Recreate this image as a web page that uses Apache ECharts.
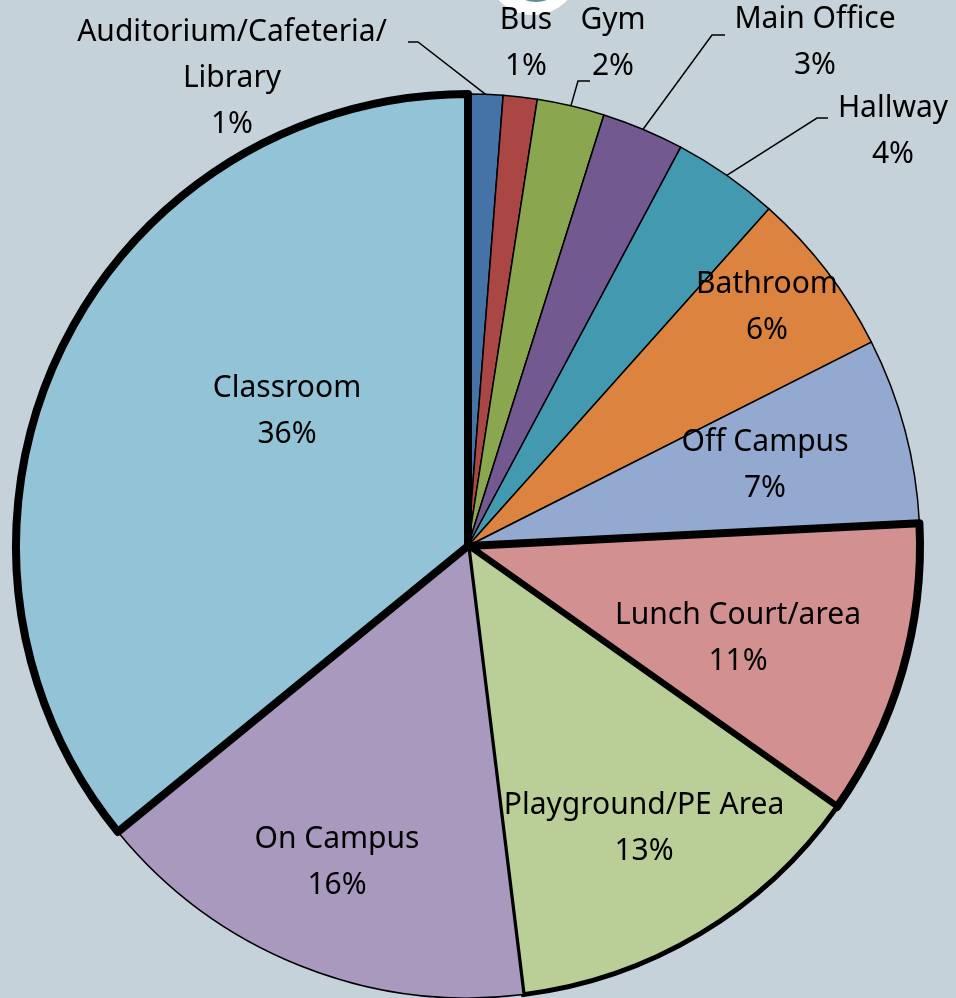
<!DOCTYPE html>
<html>
<head>
<meta charset="utf-8">
<script src="https://cdn.jsdelivr.net/npm/echarts@6/dist/echarts.min.js"></script>
<style>
  html, body { margin: 0; padding: 0; background: #C6D2D9; }
  #main { width: 956px; height: 998px; }
</style>
</head>
<body>
<div id="main"></div>
<script>
// slices clockwise from 12 o'clock
const categories = ['Auditorium/Cafeteria/Library', 'Bus', 'Gym', 'Main Office', 'Hallway',
  'Bathroom', 'Off Campus', 'Lunch Court/area', 'Playground/PE Area', 'On Campus', 'Classroom'];
const values = [1.24, 1.21, 2.41, 2.94, 3.8, 5.95, 6.65, 10.6, 13.25, 16.05, 35.9];
const colors = ['#4573A8', '#AA4744', '#8AA64F', '#72598F', '#4299B0',
  '#DC843F', '#94A9CF', '#D29190', '#BACF97', '#A999BE', '#92C3D6'];
// border width per slice (highlighted ones are thick)
const borders = [1.5, 1.5, 1.5, 1.5, 1.5, 1.5, 1.5, 8, 5, 1.5, 8];
const outside = [true, true, true, true, true, false, false, false, false, false, false];
// label block centres in px
const labelPos = [[232, 78], [526, 43], [613, 43], [815, 42], [893, 131],
  [767, 307], [765, 465], [738, 638], [644, 828], [337, 862], [287, 411]];
// leader line elbow + end (first point comes from the slice)
const leaders = {
  0: [[418, 42], [408, 42]],
  2: [[578, 81], [590, 81]],
  3: [[712, 35], [725, 35]],
  4: [[817, 118], [828, 118]]
};

let chartDom = document.getElementById('main');
let myChart = echarts.init(chartDom);

let pieData = categories.map((name, i) => ({
  name: name,
  value: values[i],
  itemStyle: { color: colors[i], borderColor: '#000', borderWidth: borders[i] },
  label: { position: outside[i] ? 'outside' : 'inside' },
  labelLine: { show: outside[i] && name !== 'Bus' }
}));

let option = {
  backgroundColor: '#C6D2D9',
  animation: false,
  graphic: [
    // white badge peeking at the top edge
    { type: 'circle', shape: { cx: 533, cy: -32, r: 47 }, style: { fill: '#fff' }, z: 0 },
    { type: 'circle', shape: { cx: 536, cy: -30, r: 32 }, style: { fill: '#5E8E93' }, z: 0 }
  ],
  series: [
    {
      type: 'pie',
      center: [468, 546],
      radius: 452,
      startAngle: 90,
      clockwise: true,
      percentPrecision: 0,
      avoidLabelOverlap: false,
      label: {
        show: true,
        formatter: p => p.name.replace('Cafeteria/', 'Cafeteria/\n') + '\n' + p.percent + '%',
        fontFamily: 'Noto Sans',
        fontSize: 30,
        lineHeight: 46,
        color: '#000',
        align: 'center'
      },
      labelLine: {
        lineStyle: { color: '#000', width: 1.5 },
        length: 20,
        length2: 12
      },
      labelLayout: function (params) {
        const i = params.dataIndex;
        const p = labelPos[i];
        let res = { x: p[0], y: p[1], align: 'center', verticalAlign: 'middle' };
        if (leaders[i] && params.labelLinePoints) {
          res.labelLinePoints = [params.labelLinePoints[0]].concat(leaders[i]);
        }
        return res;
      },
      data: pieData
    }
  ]
};

myChart.setOption(option);
</script>
</body>
</html>
